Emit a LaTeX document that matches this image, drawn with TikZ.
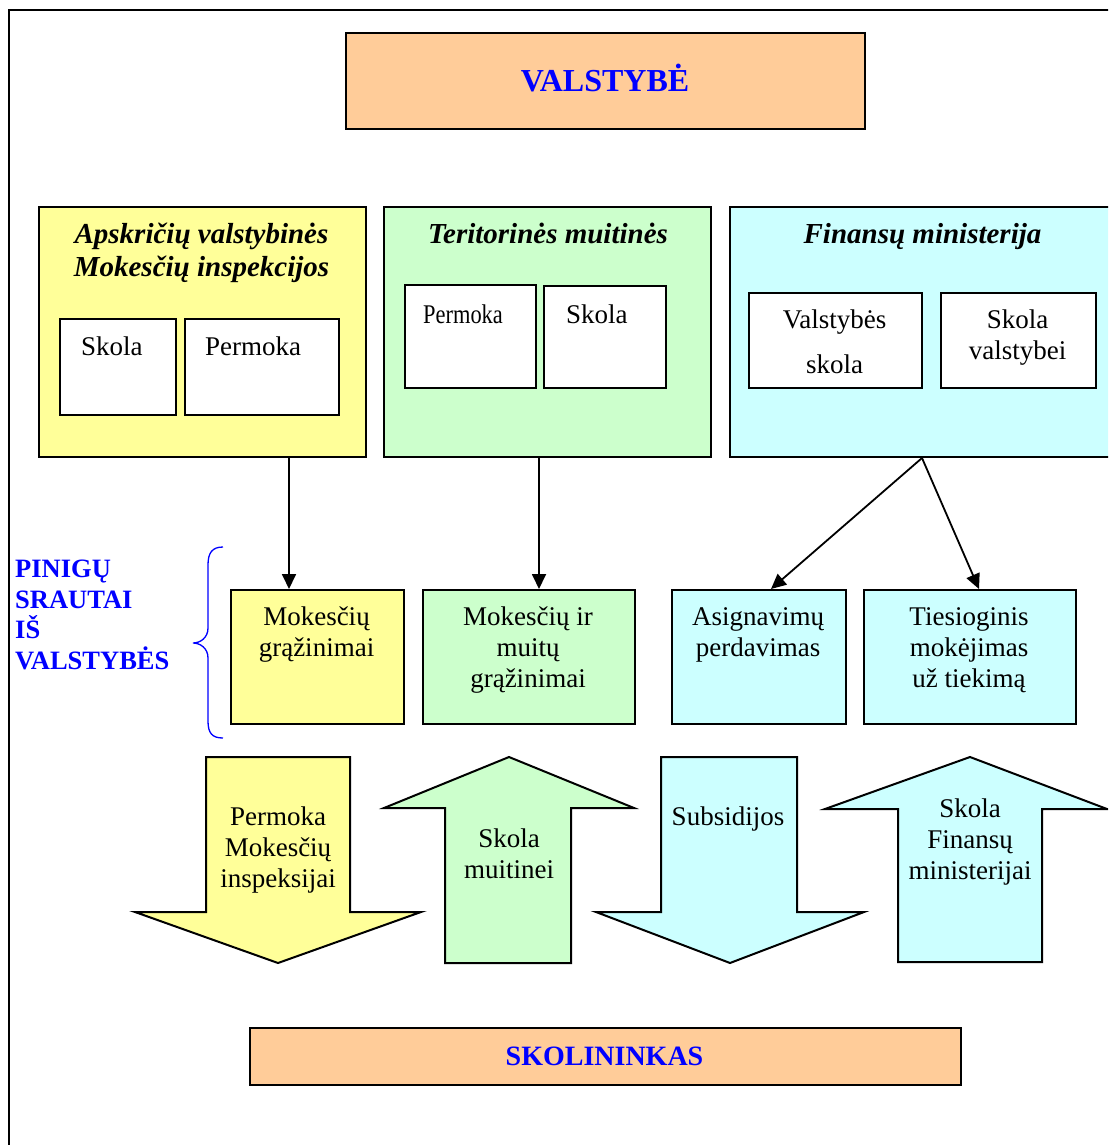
\documentclass[tikz,border=0pt]{standalone}
\usepackage{fontspec}
\usepackage{graphicx}
\setmainfont{Liberation Serif}
\usetikzlibrary{arrows.meta}
\definecolor{peach}{HTML}{FFCC99}
\definecolor{yel}{HTML}{FFFF99}
\definecolor{grn}{HTML}{CCFFCC}
\definecolor{cyn}{HTML}{CCFFFF}
\definecolor{tblue}{HTML}{0000FF}
\begin{document}
\begin{tikzpicture}[x=1pt,y=-1pt,
  box/.style={draw=black, line width=2pt, inner sep=0pt, anchor=north west},
  txt/.style={font=\fontsize{27}{31}\selectfont, align=center, inner sep=0pt, anchor=base},
  ltxt/.style={font=\fontsize{27}{31}\selectfont, inner sep=0pt, anchor=base west},
  hdr/.style={font=\fontsize{29}{33}\selectfont\bfseries\itshape, align=center, inner sep=0pt, anchor=base},
  bluebold/.style={font=\fontsize{#1}{#1}\selectfont\bfseries, text=tblue, inner sep=0pt},
  conn/.style={draw=black, line width=1.8pt, -{Triangle[length=15pt,width=14pt]}},
  barrow/.style={draw=black, line width=2pt, line join=miter}]
\useasboundingbox (0,0) rectangle (1108,1145);
\clip (0,0) rectangle (1108,1145);
\fill[white] (0,0) rectangle (1108,1145);
% outer frame
\draw[line width=2.5pt] (1130,10) -- (9,10) -- (9,1170);

% top box
\node[box, fill=peach, minimum width=519, minimum height=96] (val) at (345,32) {};
\node[bluebold=32, anchor=base] (valT) at (605,92) {VALSTYBĖ};

% level 1 boxes
\node[box, fill=yel, minimum width=327, minimum height=250] (apsk) at (38,206) {};
\node[hdr] (apskT) at (201.5,276) {Apskričių valstybinės\\Mokesčių inspekcijos};
\node[box, fill=white, minimum width=116, minimum height=96] (apskS) at (59,318) {};
\node[ltxt] (apskST) at (81,355) {Skola};
\node[box, fill=white, minimum width=154, minimum height=96] (apskP) at (184,318) {};
\node[ltxt] (apskPT) at (205,355) {Permoka};

\node[box, fill=grn, minimum width=327, minimum height=250] (muit) at (383,206) {};
\node[hdr] (muitT) at (548,243) {Teritorinės muitinės};
\node[box, fill=white, minimum width=131, minimum height=103] (muitP) at (404,284) {};
\node[ltxt] (muitPT) at (423,323) {\scalebox{0.83}[1]{Permoka}};
\node[box, fill=white, minimum width=122, minimum height=102] (muitS) at (543,285) {};
\node[ltxt] (muitST) at (566,323) {Skola};

\node[box, fill=cyn, minimum width=387, minimum height=250] (fin) at (729,206) {};
\node[hdr] (finT) at (922.5,243) {Finansų ministerija};
\node[box, fill=white, minimum width=173, minimum height=95] (finV) at (748,292) {};
\node[txt] (finVT) at (834.5,373) {Valstybės\\[14pt]skola};
\node[box, fill=white, minimum width=155, minimum height=95] (finS) at (940,292) {};
\node[txt] (finST) at (1017.5,359) {Skola\\valstybei};

% brace and left label
\draw[tblue, line width=1.3pt] (223,547) .. controls (212,547) and (208,553) .. (208,565) -- (208,628) .. controls (208,638) and (200,643) .. (193,643) .. controls (200,643) and (208,648) .. (208,658) -- (208,721) .. controls (208,733) and (212,738) .. (223,738);
\node[bluebold=26.5, anchor=base west, align=left, font=\fontsize{26.5}{30.5}\selectfont\bfseries] (pin) at (15,669) {PINIGŲ\\SRAUTAI\\IŠ\\VALSTYBĖS};

% level 2 boxes
\node[box, fill=yel, minimum width=173, minimum height=134] (mok) at (230,589) {};
\node[txt] (mokT) at (316.5,656) {Mokesčių\\grąžinimai};
\node[box, fill=grn, minimum width=212, minimum height=134] (muitg) at (422,589) {};
\node[txt] (muitgT) at (528,687) {Mokesčių ir\\muitų\\grąžinimai};
\node[box, fill=cyn, minimum width=174, minimum height=134] (asig) at (671,589) {};
\node[txt] (asigT) at (758,656) {Asignavimų\\perdavimas};
\node[box, fill=cyn, minimum width=212, minimum height=134] (ties) at (863,589) {};
\node[txt] (tiesT) at (969,687) {Tiesioginis\\mokėjimas\\už tiekimą};

% connectors
\draw[conn] ([xshift=86.5pt]apsk.south) -- ([xshift=-28.5pt]mok.north);
\draw[conn] ([xshift=-8.5pt]muit.south) -- ([xshift=10pt]muitg.north);
\draw[conn] ([xshift=-1.5pt]fin.south) -- ([xshift=12pt]asig.north);
\draw[conn] ([xshift=-1.5pt]fin.south) -- ([xshift=9pt]ties.north);

% block arrows
\draw[barrow, fill=yel] (206,757) -- (350,757) -- (350,912) -- (421,912) -- (278,963) -- (135,912) -- (206,912) -- cycle;
\node[txt] (a1T) at (278,887) {Permoka\\Mokesčių\\inspeksijai};
\draw[barrow, fill=grn] (509,757) -- (634,808) -- (571,808) -- (571,963) -- (445,963) -- (445,808) -- (384,808) -- cycle;
\node[txt] (a2T) at (509,878) {Skola\\muitinei};
\draw[barrow, fill=cyn] (661,757) -- (797,757) -- (797,912) -- (864,912) -- (730,963) -- (596,912) -- (661,912) -- cycle;
\node[txt] (a3T) at (728,825) {Subsidijos};
\draw[barrow, fill=cyn] (970,757) -- (1107,809) -- (1042,809) -- (1042,962) -- (898,962) -- (898,809) -- (825,809) -- cycle;
\node[txt] (a4T) at (970,879) {Skola\\Finansų\\ministerijai};

% bottom box
\node[box, fill=peach, minimum width=711, minimum height=57] (skol) at (249,1027) {};
\node[bluebold=28, anchor=base] (skolT) at (604.5,1065) {SKOLININKAS};
\end{tikzpicture}
\end{document}
